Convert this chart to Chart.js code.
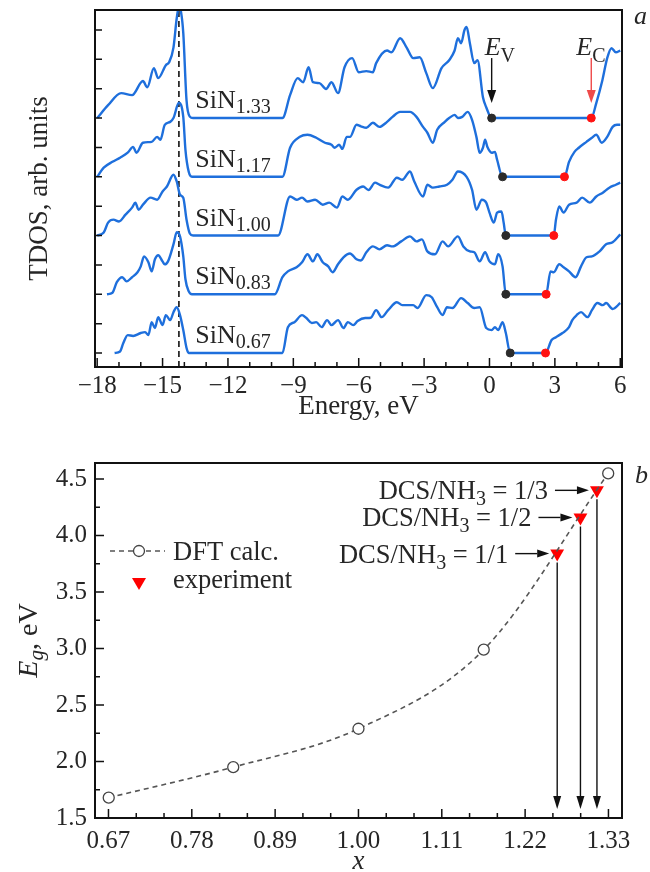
<!DOCTYPE html>
<html>
<head>
<meta charset="utf-8">
<script src="https://cdn.jsdelivr.net/npm/chart.js@4.4.1/dist/chart.umd.min.js"></script>
<style>
  html, body { margin: 0; padding: 0; background: #fff; }
  #wrap { position: relative; width: 650px; height: 872px; }
  canvas { position: absolute; left: 0; }
  #tdos { top: 0; }
  #gap { top: 420px; }
</style>
</head>
<body>
<div id="wrap">
  <canvas id="tdos" width="650" height="420"></canvas>
  <canvas id="gap" width="650" height="452"></canvas>
</div>
<script>
// ---- panel a: total DOS, [energy eV, height above the curve's own zero] ----
const sin133 = [[-18,0],[-17.5,0.44],[-16.9,0.85],[-16.4,0.78],[-15.9,1.26],[-15.7,1.05],[-15.4,1.70],[-15.2,1.36],
  [-14.85,1.80],[-14.7,1.90],[-14.5,2.40],[-14.35,3.40],[-14.25,3.80],[-14.15,3.60],[-14.05,2.90],[-13.9,0.60],
  [-13.75,0.05],[-13.6,0],[-9.5,0],[-9.15,0.78],[-8.8,1.36],[-8.55,1.22],[-8.3,1.73],[-8.1,1.22],[-7.8,1.19],
  [-7.5,0.99],[-7.25,1.22],[-6.95,0.85],[-6.65,1.73],[-6.3,2.04],[-6.0,1.56],[-5.65,1.60],[-5.35,1.56],[-5.2,1.87],
  [-4.7,2.30],[-4.5,2.24],[-4.1,2.72],[-3.8,2.40],[-3.5,2.04],[-3.2,2.07],[-2.9,1.53],[-2.6,1.02],[-2.2,1.70],
  [-1.85,1.97],[-1.6,2.30],[-1.45,2.72],[-1.3,2.55],[-1.15,2.99],[-1.05,3.10],[-0.9,2.55],[-0.7,1.87],[-0.55,1.97],
  [-0.3,0.71],[-0.15,0.37],[0.1,0],[4.67,0],[4.9,0.51],[5.18,1.29],[5.4,2.04],[5.6,2.38],[5.8,2.24],[6.0,2.30]];
const sin117 = [[-18,0],[-17.7,0.31],[-17.3,0.51],[-16.95,0.65],[-16.6,0.82],[-16.35,1.02],[-16.2,0.82],[-15.9,1.16],
  [-15.5,1.19],[-15.25,1.36],[-15.1,1.26],[-14.9,1.77],[-14.65,1.87],[-14.5,2.0],[-14.25,2.52],[-14.05,2.04],
  [-13.95,0.92],[-13.8,0.17],[-13.65,0],[-9.5,0],[-9.15,0.99],[-8.7,1.36],[-8.35,1.43],[-7.95,1.33],[-7.55,1.16],
  [-7.25,1.09],[-7.1,0.99],[-6.9,1.09],[-6.75,0.95],[-6.55,1.36],[-6.4,1.36],[-6.1,1.77],[-5.9,1.72],[-5.65,1.67],
  [-5.35,1.84],[-5.05,1.70],[-4.7,1.87],[-4.45,2.04],[-4.1,2.21],[-3.65,2.21],[-3.35,2.04],[-3.05,1.70],[-2.85,1.50],
  [-2.6,1.16],[-2.4,1.60],[-2.05,1.87],[-1.85,2.0],[-1.6,2.11],[-1.45,2.0],[-1.25,2.04],[-1.0,2.21],[-0.8,1.94],
  [-0.6,1.36],[-0.45,0.82],[-0.3,0.99],[-0.2,1.26],[-0.1,1.02],[0.1,0.82],[0.25,0.85],[0.35,0.58],[0.6,0],[3.44,0],
  [3.65,0.51],[3.9,0.85],[4.1,0.99],[4.45,1.19],[4.7,1.33],[4.9,1.43],[5.15,1.16],[5.4,1.36],[5.65,1.70],[5.85,1.77],[6.0,1.77]];
const sin100 = [[-18,0],[-17.7,0.1],[-17.5,0.44],[-17.25,0.54],[-17.0,0.48],[-16.7,0.71],[-16.4,0.95],[-16.25,1.12],
  [-16.1,0.88],[-15.9,1.05],[-15.55,1.29],[-15.25,1.22],[-15.0,1.50],[-14.8,1.67],[-14.5,2.07],[-14.35,1.84],[-14.2,1.39],
  [-14.05,1.29],[-13.9,0.54],[-13.75,0.07],[-13.6,0],[-9.7,0],[-9.15,1.33],[-8.85,1.22],[-8.6,1.29],[-8.35,1.16],
  [-8.0,1.22],[-7.65,1.05],[-7.35,1.12],[-7.0,0.95],[-6.75,1.33],[-6.5,1.22],[-6.1,1.56],[-5.8,1.67],[-5.55,1.55],
  [-5.25,1.80],[-5.05,1.73],[-4.65,1.63],[-4.25,1.97],[-4.0,1.90],[-3.65,2.18],[-3.45,1.84],[-3.05,1.33],[-2.85,1.73],
  [-2.6,1.63],[-2.3,1.67],[-1.95,1.73],[-1.7,1.90],[-1.45,2.18],[-1.05,2.0],[-0.8,1.56],[-0.6,0.88],[-0.35,1.22],
  [-0.15,1.12],[0.0,0.78],[0.2,0.44],[0.35,0.78],[0.55,0.82],[0.65,0.44],[0.75,0],[2.95,0],[3.05,0.54],[3.2,0.99],
  [3.4,0.78],[3.65,1.05],[4.0,1.12],[4.25,1.29],[4.6,1.12],[4.9,1.33],[5.2,1.46],[5.5,1.63],[5.8,1.73],[6.0,1.80]];
const sin083 = [[-17.55,0],[-17.3,0.05],[-17.1,0.41],[-16.85,0.58],[-16.65,0.44],[-16.4,0.58],[-16.15,0.75],[-16.0,0.95],
  [-15.85,1.29],[-15.65,1.09],[-15.5,0.78],[-15.35,1.19],[-15.2,1.33],[-15.0,1.12],[-14.9,1.02],[-14.75,1.12],[-14.5,1.70],
  [-14.35,2.11],[-14.2,1.97],[-14.05,1.29],[-13.95,0.51],[-13.8,0.1],[-13.65,0],[-9.85,0],[-9.5,0.58],[-9.25,0.78],
  [-8.85,0.92],[-8.6,1.09],[-8.35,1.36],[-8.1,1.12],[-7.9,1.36],[-7.65,1.09],[-7.4,0.95],[-7.2,0.75],[-6.95,1.02],
  [-6.7,1.26],[-6.4,1.39],[-6.1,1.19],[-5.9,1.15],[-5.65,1.43],[-5.35,1.63],[-5.05,1.53],[-4.7,1.67],[-4.45,1.63],
  [-4.05,1.80],[-3.65,1.97],[-3.35,1.80],[-3.1,1.87],[-2.85,1.46],[-2.5,1.36],[-2.15,1.80],[-1.9,1.63],[-1.45,1.97],
  [-1.2,1.63],[-0.9,1.46],[-0.7,1.43],[-0.45,1.12],[-0.2,1.43],[0.0,1.12],[0.25,1.02],[0.4,1.36],[0.6,0.95],[0.75,0],
  [2.6,0],[2.8,0.78],[2.95,0.75],[3.2,1.02],[3.4,0.92],[3.65,0.78],[3.95,0.58],[4.2,0.95],[4.45,1.26],[4.7,1.29],
  [5.05,1.46],[5.35,1.70],[5.65,1.77],[6.0,2.04]];
const sin067 = [[-17.2,0],[-16.95,0.05],[-16.8,0.34],[-16.6,0.61],[-16.35,0.58],[-16.0,0.68],[-15.8,0.71],[-15.65,0.61],
  [-15.5,1.05],[-15.35,0.85],[-15.2,1.22],[-15.0,0.95],[-14.85,1.29],[-14.65,1.12],[-14.5,1.39],[-14.35,1.56],[-14.2,1.29],
  [-14.05,0.78],[-13.9,0.17],[-13.8,0],[-9.5,0],[-9.25,0.88],[-8.95,1.05],[-8.6,1.29],[-8.4,1.19],[-8.15,1.02],
  [-7.95,1.05],[-7.7,0.88],[-7.45,1.12],[-7.25,0.95],[-6.95,1.12],[-6.7,0.85],[-6.5,1.05],[-6.25,0.95],[-6.05,1.09],
  [-5.7,1.19],[-5.45,1.20],[-5.2,1.46],[-4.95,1.22],[-4.65,1.46],[-4.25,1.73],[-4.0,1.63],[-3.5,1.63],[-3.3,1.53],
  [-2.9,1.97],[-2.65,1.90],[-2.4,1.56],[-2.15,1.29],[-1.95,1.56],[-1.7,1.53],[-1.3,1.87],[-1.0,1.70],[-0.7,1.53],
  [-0.45,1.56],[-0.15,0.85],[0.1,0.78],[0.25,0.88],[0.4,0.78],[0.6,1.05],[0.75,0.68],[0.95,0],[2.57,0],[2.85,0.44],
  [3.05,0.54],[3.35,0.68],[3.65,0.88],[3.8,1.12],[4.0,1.29],[4.2,1.39],[4.5,1.22],[4.7,1.46],[4.95,1.70],[5.2,1.63],
  [5.35,1.70],[5.65,1.50],[6.0,1.70]];

const tdosCurves = [sin133, sin117, sin100, sin083, sin067];
const tdosNames = ['1.33', '1.17', '1.00', '0.83', '0.67'];
const tdosShift = [8, 6, 4, 2, 0];
const evEdge = [0.1, 0.6, 0.75, 0.75, 0.95];     // valence band top, eV
const ecEdge = [4.67, 3.44, 2.95, 2.6, 2.57];    // conduction band bottom, eV
const peakLine = -14.25;
const energyTicks = [-18, -15, -12, -9, -6, -3, 0, 3, 6];

// ---- panel b: band gap vs x ----
const xDft = [0.667, 0.833, 1.0, 1.167, 1.333];
const egDft = [1.68, 1.95, 2.29, 2.99, 4.55];
const xExp = [1.265, 1.296, 1.318];
const egExp = [3.84, 4.16, 4.40];
const expRatio = ['1/1', '1/2', '1/3'];
const xTicks = [6, 7, 8, 9, 10, 11, 12].map(k => k / 9);
const egTicks = [1.5, 2.0, 2.5, 3.0, 3.5, 4.0, 4.5];

const FONT = "'Liberation Serif', 'Times New Roman', serif";
const INK = '#262626';
const BLUE = '#1e6fdc';

function fontOf(p) { return (p.it ? 'italic ' : '') + p.sz + 'px ' + FONT; }

// draws text made of pieces (for subscripts / italics)
function drawRun(ctx, x, y, parts, align) {
  let w = 0;
  parts.forEach(p => { ctx.font = fontOf(p); w += ctx.measureText(p.t).width; });
  if (align === 'right') x -= w;
  else if (align === 'center') x -= w / 2;
  ctx.textAlign = 'left';
  ctx.textBaseline = 'alphabetic';
  ctx.fillStyle = INK;
  parts.forEach(p => {
    ctx.font = fontOf(p);
    ctx.fillText(p.t, x, y + (p.dy || 0));
    x += ctx.measureText(p.t).width;
  });
}

function arrow(ctx, x1, y1, x2, y2, color, head, half) {
  const ang = Math.atan2(y2 - y1, x2 - x1);
  const bx = x2 - head * Math.cos(ang), by = y2 - head * Math.sin(ang);
  ctx.strokeStyle = color;
  ctx.fillStyle = color;
  ctx.lineWidth = 1.4;
  ctx.beginPath();
  ctx.moveTo(x1, y1);
  ctx.lineTo(bx, by);
  ctx.stroke();
  ctx.beginPath();
  ctx.moveTo(x2, y2);
  ctx.lineTo(bx + half * Math.sin(ang), by - half * Math.cos(ang));
  ctx.lineTo(bx - half * Math.sin(ang), by + half * Math.cos(ang));
  ctx.closePath();
  ctx.fill();
}

Chart.defaults.font.family = FONT;
Chart.defaults.color = INK;

const noGrid = { display: false, drawTicks: false, tickLength: 0 };

// ---------------- panel a ----------------
const yLo = -0.477, yHi = 11.68;

const tdosDeco = {
  id: 'tdosDeco',
  afterDraw(chart) {
    const { ctx, chartArea: a, scales: { x, y } } = chart;
    ctx.save();
    // ticks point inward
    ctx.strokeStyle = '#111';
    ctx.lineWidth = 1.5;
    ctx.beginPath();
    for (let v = -18; v <= 6; v++) {
      const px = x.getPixelForValue(v);
      const len = v % 3 === 0 ? 9 : 5;
      ctx.moveTo(px, a.bottom);
      ctx.lineTo(px, a.bottom - len);
    }
    for (let v = 0; v <= 11; v++) {
      const py = y.getPixelForValue(v);
      ctx.moveTo(a.left, py);
      ctx.lineTo(a.left + 7, py);
    }
    ctx.stroke();
    ctx.lineWidth = 2;
    ctx.strokeRect(a.left, a.top, a.right - a.left, a.bottom - a.top);

    // compound names next to each curve
    tdosNames.forEach((n, i) => {
      drawRun(ctx, x.getPixelForValue(-13.5), y.getPixelForValue(tdosShift[i]) - 10,
        [{ t: 'SiN', sz: 26 }, { t: n, sz: 20, dy: 5 }]);
    });

    // E_V and E_C markers on the top curve
    const base = y.getPixelForValue(tdosShift[0]);
    const xv = x.getPixelForValue(evEdge[0]);
    const xc = x.getPixelForValue(ecEdge[0]);
    arrow(ctx, xv, base - 60, xv, base - 15, '#111', 13, 4.5);
    arrow(ctx, xc, base - 60, xc, base - 15, '#ef4a4a', 13, 4.5);
    drawRun(ctx, xv - 7, base - 63, [{ t: 'E', sz: 26, it: true }, { t: 'V', sz: 20, dy: 7 }]);
    drawRun(ctx, xc - 15, base - 63, [{ t: 'E', sz: 26, it: true }, { t: 'C', sz: 20, dy: 7 }]);

    drawRun(ctx, 634, 24, [{ t: 'a', sz: 26, it: true }]);
    ctx.restore();
  }
};

const tdosSets = tdosCurves.map((c, i) => ({
  data: c.map(p => ({ x: p[0], y: p[1] + tdosShift[i] })),
  borderColor: BLUE,
  borderWidth: 2.4,
  pointRadius: 0,
  cubicInterpolationMode: 'monotone',
  order: 1
}));

tdosSets.push({
  data: evEdge.map((e, i) => ({ x: e, y: tdosShift[i] })),
  showLine: false,
  pointRadius: 4,
  pointBackgroundColor: '#2b2b2b',
  pointBorderColor: '#2b2b2b',
  order: 0
});
tdosSets.push({
  data: ecEdge.map((e, i) => ({ x: e, y: tdosShift[i] })),
  showLine: false,
  pointRadius: 4,
  pointBackgroundColor: '#ff1212',
  pointBorderColor: '#ff1212',
  order: 0
});
tdosSets.push({
  data: [{ x: peakLine, y: yLo }, { x: peakLine, y: yHi }],
  borderColor: '#111',
  borderWidth: 1.6,
  borderDash: [6, 4],
  pointRadius: 0,
  order: 2
});

new Chart(document.getElementById('tdos'), {
  type: 'line',
  data: { datasets: tdosSets },
  options: {
    responsive: false,
    animation: false,
    layout: { padding: { top: 10, right: 28, left: 0, bottom: 0 } },
    plugins: { legend: { display: false }, tooltip: { enabled: false } },
    scales: {
      x: {
        type: 'linear',
        min: -18.1,
        max: 6.08,
        grid: noGrid,
        border: { display: false },
        afterBuildTicks: s => { s.ticks = energyTicks.map(v => ({ value: v })); },
        afterFit: s => { s.height = 53; },
        ticks: {
          autoSkip: false,
          maxRotation: 0,
          padding: 4,
          font: { size: 25 },
          color: INK,
          callback: v => (v < 0 ? '\u2212' + Math.abs(v) : String(v))
        },
        title: { display: true, text: 'Energy, eV', font: { size: 27 }, color: INK, padding: { top: 0, bottom: -3 } }
      },
      y: {
        type: 'linear',
        min: yLo,
        max: yHi,
        grid: noGrid,
        border: { display: false },
        ticks: { display: false },
        afterFit: s => { s.width = 95; },
        title: { display: true, text: 'TDOS, arb. units', font: { size: 27 }, color: INK, padding: { top: 24, bottom: 0 } }
      }
    }
  },
  plugins: [tdosDeco]
});

// ---------------- panel b ----------------
const gapDeco = {
  id: 'gapDeco',
  afterDraw(chart) {
    const { ctx, chartArea: a, scales: { x, y } } = chart;
    ctx.save();
    ctx.strokeStyle = '#111';
    ctx.lineWidth = 1.5;
    ctx.beginPath();
    for (let k = 18; k <= 36; k++) {
      const px = x.getPixelForValue(k / 27);
      const len = k % 3 === 0 ? 9 : 5;
      ctx.moveTo(px, a.bottom);
      ctx.lineTo(px, a.bottom - len);
    }
    for (let k = 6; k <= 18; k++) {
      const py = y.getPixelForValue(k / 4);
      const len = k % 2 === 0 ? 9 : 5;
      ctx.moveTo(a.left, py);
      ctx.lineTo(a.left + len, py);
    }
    ctx.stroke();
    ctx.lineWidth = 2;
    ctx.strokeRect(a.left, a.top, a.right - a.left, a.bottom - a.top);

    // experiment points: drop lines to the x axis and ratio labels
    xExp.forEach((xv, i) => {
      const px = x.getPixelForValue(xv);
      const py = y.getPixelForValue(egExp[i]);
      arrow(ctx, px, py + 9, px, a.bottom - 9, '#111', 13, 4);
      const end = px - 8, start = end - 34;
      arrow(ctx, start, py, end, py, '#111', 12, 4);
      drawRun(ctx, start - 7, py + 9,
        [{ t: 'DCS/NH', sz: 26.5 }, { t: '3', sz: 20, dy: 6 }, { t: ' = ' + expRatio[i], sz: 26.5 }], 'right');
    });

    // legend
    const lx = a.left + 44, ly = a.top + 88;
    ctx.strokeStyle = '#555';
    ctx.lineWidth = 1.6;
    ctx.setLineDash([5, 4]);
    ctx.beginPath();
    ctx.moveTo(a.left + 15, ly);
    ctx.lineTo(a.left + 70, ly);
    ctx.stroke();
    ctx.setLineDash([]);
    ctx.beginPath();
    ctx.arc(lx, ly, 5.5, 0, Math.PI * 2);
    ctx.fillStyle = '#fff';
    ctx.fill();
    ctx.strokeStyle = '#444';
    ctx.lineWidth = 1.3;
    ctx.stroke();
    drawRun(ctx, a.left + 78, a.top + 97, [{ t: 'DFT calc.', sz: 26.5 }]);
    const ty = a.top + 119;
    ctx.fillStyle = '#ff0000';
    ctx.beginPath();
    ctx.moveTo(lx - 7, ty - 4);
    ctx.lineTo(lx + 7, ty - 4);
    ctx.lineTo(lx, ty + 8);
    ctx.closePath();
    ctx.fill();
    drawRun(ctx, a.left + 78, a.top + 125, [{ t: 'experiment', sz: 26.5 }]);

    // axis titles
    ctx.save();
    ctx.translate(28, (a.top + a.bottom) / 2);
    ctx.rotate(-Math.PI / 2);
    drawRun(ctx, 0, 9, [{ t: 'E', sz: 28, it: true }, { t: 'g', sz: 21, it: true, dy: 6 }, { t: ', eV', sz: 28 }], 'center');
    ctx.restore();
    drawRun(ctx, (a.left + a.right) / 2, 449, [{ t: 'x', sz: 27, it: true }], 'center');
    drawRun(ctx, 635, 63, [{ t: 'b', sz: 26, it: true }]);
    ctx.restore();
  }
};

new Chart(document.getElementById('gap'), {
  type: 'line',
  data: {
    datasets: [
      {
        label: 'DFT calc.',
        data: xDft.map((v, i) => ({ x: v, y: egDft[i] })),
        borderColor: '#555',
        borderWidth: 1.6,
        borderDash: [5, 4],
        cubicInterpolationMode: 'monotone',
        pointStyle: 'circle',
        pointRadius: 5.5,
        pointBackgroundColor: '#fff',
        pointBorderColor: '#444',
        pointBorderWidth: 1.3
      },
      {
        label: 'experiment',
        data: xExp.map((v, i) => ({ x: v, y: egExp[i] })),
        showLine: false,
        pointStyle: 'triangle',
        pointRotation: 180,
        pointRadius: 8,
        pointBackgroundColor: '#ff0000',
        pointBorderColor: '#ff0000',
        pointBorderWidth: 0
      }
    ]
  },
  options: {
    responsive: false,
    animation: false,
    layout: { padding: { top: 43, right: 28, left: 0, bottom: 0 } },
    plugins: { legend: { display: false }, tooltip: { enabled: false } },
    scales: {
      x: {
        type: 'linear',
        min: 0.6487,
        max: 1.3514,
        grid: noGrid,
        border: { display: false },
        afterBuildTicks: s => { s.ticks = xTicks.map(v => ({ value: v })); },
        afterFit: s => { s.height = 54; },
        ticks: { autoSkip: false, maxRotation: 0, padding: 8, font: { size: 25 }, color: INK, callback: v => v.toFixed(2) }
      },
      y: {
        type: 'linear',
        min: 1.5,
        max: 4.642,
        grid: noGrid,
        border: { display: false },
        afterBuildTicks: s => { s.ticks = egTicks.map(v => ({ value: v })); },
        afterFit: s => { s.width = 95; },
        ticks: { padding: 8, font: { size: 25 }, color: INK, callback: v => v.toFixed(1) }
      }
    }
  },
  plugins: [gapDeco]
});
</script>
</body>
</html>
